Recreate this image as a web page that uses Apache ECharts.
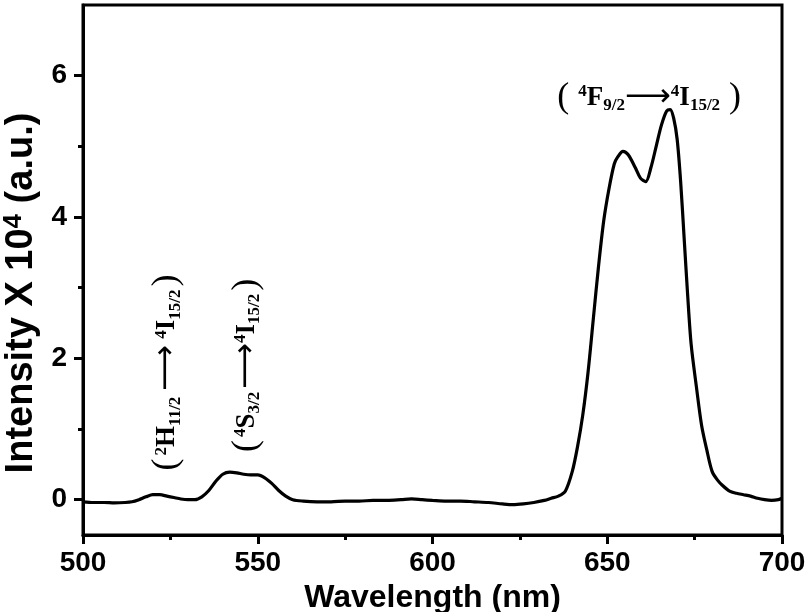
<!DOCTYPE html>
<html><head><meta charset="utf-8">
<script src="https://cdn.jsdelivr.net/npm/echarts@6/dist/echarts.min.js"></script>
<style>html,body{margin:0;padding:0;background:#fff}#c{width:807px;height:612px}</style>
</head><body><div id="c"></div>
<script>
const wavelength = [500,503,506,509,512,514,516,518,520,522,524,526,528,530,532,534,536,538,540,542,544,546,548,550,552,554,556,558,560,563,567,571,575,579,583,587,591,594,597,600,604,608,612,616,620,623,626,629,632,634,636,638,640,641.5,643,644.5,646,647.5,649,650.5,652,653,654.5,656,658,659.5,661,662.5,664,665.5,667,668,669,670,671,672,673,674,675.5,677,678.5,680,681.5,683,685,687,689,691,693,695,697,699,700];
const intensity = [-0.03,-0.04,-0.04,-0.045,-0.04,-0.03,0.0,0.04,0.07,0.07,0.05,0.03,0.01,0.0,0.0,0.04,0.13,0.26,0.36,0.39,0.38,0.36,0.35,0.35,0.31,0.23,0.13,0.05,0.0,-0.02,-0.03,-0.03,-0.02,-0.02,-0.01,-0.01,0.0,0.01,0.0,-0.01,-0.02,-0.02,-0.03,-0.04,-0.06,-0.07,-0.06,-0.04,-0.01,0.02,0.05,0.12,0.40,0.75,1.2,1.8,2.55,3.3,3.95,4.4,4.75,4.85,4.93,4.88,4.7,4.55,4.5,4.7,5.0,5.3,5.5,5.52,5.4,5.1,4.5,3.7,2.9,2.2,1.6,1.05,0.7,0.4,0.28,0.2,0.12,0.09,0.07,0.05,0.02,0.0,-0.01,0.0,0.02];
const xTicks = [500,550,600,650,700];
const yTicks = [0,2,4,6];
const yMinorTicks = [1,3,5];
const xTitle = 'Wavelength (nm)';
const annotations = [
  {x: 524, y: 1.8, rotate: true, text: '{p|(}{g| }{sup|2}{m|H}{sub|11/2}{g|  }{a|⟶}{g|  }{sup|4}{m|I}{sub|15/2}{g| }{p|)}'},
  {x: 546.8, y: 1.9, rotate: true, text: '{p|(}{g| }{sup|4}{m|S}{sub|3/2}{g| }{a|⟶}{sup|4}{m|I}{sub|15/2}{g| }{p|)}'},
  {x: 662, y: 5.69, rotate: false, text: '{p|(}{g|   }{sup|4}{m|F}{sub|9/2}{a|⟶}{sup|4}{m|I}{sub|15/2}{g|   }{p|)}'}
];

const chart = echarts.init(document.getElementById('c'), null, {renderer: 'canvas'});
const data = wavelength.map((w, i) => [w, intensity[i]]);
const sansBold = {fontFamily: 'Liberation Sans, Arial, sans-serif', fontWeight: 'bold', color: '#000'};
chart.setOption({
  animation: false,
  grid: {left: 83, right: 25, top: 5, bottom: 77, containLabel: false, outerBoundsMode: 'none',
    show: true, borderColor: '#000', borderWidth: 3, backgroundColor: 'transparent'},
  xAxis: {
    type: 'value', min: 500, max: 700, interval: 50,
    name: xTitle, nameLocation: 'middle', nameGap: 46,
    nameTextStyle: Object.assign({fontSize: 32}, sansBold),
    axisLine: {show: true, onZero: false, lineStyle: {color: '#000', width: 3}},
    axisTick: {show: true, inside: false, length: 9, lineStyle: {color: '#000', width: 3}},
    minorTick: {show: true, splitNumber: 2, length: 5, lineStyle: {color: '#000', width: 3}},
    axisLabel: Object.assign({fontSize: 28, margin: 14}, sansBold),
    splitLine: {show: false}, minorSplitLine: {show: false}
  },
  yAxis: [{
    type: 'value', min: -0.5, max: 7,
    name: '{t|Intensity X 10}{s|4}{t| (a.u.)}', nameLocation: 'middle', nameGap: 34,
    nameTextStyle: {padding: [0, 46, 0, 0], rich: {
      t: Object.assign({fontSize: 38, lineHeight: 40, verticalAlign: 'bottom'}, sansBold),
      s: Object.assign({fontSize: 26, lineHeight: 40, verticalAlign: 'top'}, sansBold)
    }},
    axisLine: {show: true, onZero: false, lineStyle: {color: '#000', width: 3}},
    axisTick: {show: true, inside: false, length: 9, customValues: yTicks, lineStyle: {color: '#000', width: 3}},
    axisLabel: Object.assign({fontSize: 28, margin: 16, customValues: yTicks}, sansBold),
    splitLine: {show: false}
  }, {
    type: 'value', min: -0.5, max: 7, position: 'left',
    axisLine: {show: false},
    axisTick: {show: true, inside: false, length: 5, customValues: yMinorTicks, lineStyle: {color: '#000', width: 3}},
    axisLabel: {show: false, customValues: yMinorTicks},
    splitLine: {show: false}
  }],
  series: [{
    type: 'line', data: data, showSymbol: false, smooth: 0.3,
    lineStyle: {color: '#000', width: 3.2}, z: 3
  }]
});

const serif = 'Liberation Serif, Times New Roman, serif';
const serifRich = {
  p: {fontFamily: serif, fontSize: 36, lineHeight: 38, color: '#000', verticalAlign: 'middle'},
  g: {fontFamily: serif, fontSize: 12, lineHeight: 38, color: '#000'},
  m: {fontFamily: serif, fontWeight: 'bold', fontSize: 27, lineHeight: 38, color: '#000', verticalAlign: 'middle'},
  sup: {fontFamily: serif, fontWeight: 'bold', fontSize: 17, lineHeight: 17, color: '#000', verticalAlign: 'top', padding: [5, 0, 0, 0]},
  sub: {fontFamily: serif, fontWeight: 'bold', fontSize: 17, lineHeight: 17, color: '#000', verticalAlign: 'bottom', padding: [0, 0, 2, 0]},
  a: {fontFamily: 'DejaVu Sans, sans-serif', fontSize: 32, lineHeight: 38, color: '#000', verticalAlign: 'middle'}
};
const graphics = annotations.map(a => {
  const pt = chart.convertToPixel({gridIndex: 0}, [a.x, a.y]);
  return {
    type: 'text', x: pt[0], y: pt[1], rotation: a.rotate ? Math.PI / 2 : 0, z: 10,
    style: {text: a.text, rich: serifRich, align: 'center', verticalAlign: 'middle'}
  };
});
chart.setOption({graphic: graphics});
</script></body></html>
